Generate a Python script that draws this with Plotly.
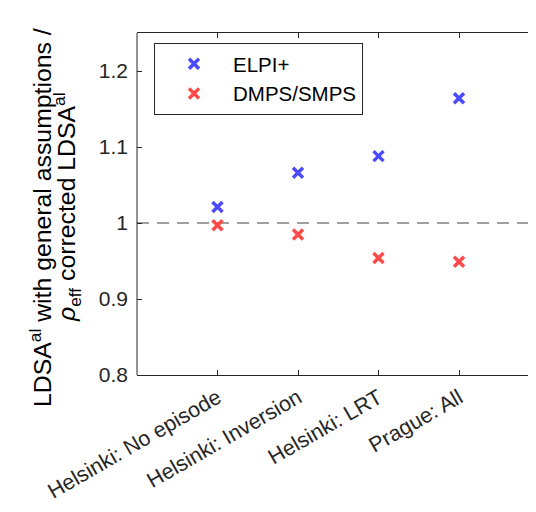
import plotly.graph_objects as go

categories = ["Helsinki: No episode", "Helsinki: Inversion", "Helsinki: LRT", "Prague: All"]
x_pos = [1, 2, 3, 4]
elpi = [1.021, 1.066, 1.088, 1.164]
dmps = [0.997, 0.985, 0.954, 0.949]
y_ticks = [0.8, 0.9, 1.0, 1.1, 1.2]
y_tick_labels = ["0.8", "0.9", "1", "1.1", "1.2"]
y_title_lines = ["LDSA<sup>al</sup> with general assumptions /",
                 "<i>ρ</i><sub>eff</sub> corrected LDSA<sup>al</sup>"]

FONT = "Liberation Sans, Arial, Helvetica, sans-serif"

# page body has an 8px default margin; keep the figure inside the window (no scrollbars)
W, H = 520, 496
L, T, B, R = 129, 25, 129, 0
PW, PH = W - L - R, H - T - B
X_MAX = PW / 80.5  # keeps category spacing of the reference

fig = go.Figure()
fig.add_trace(go.Scatter(x=x_pos, y=elpi, mode="markers", name="ELPI+",
                         marker=dict(symbol="x-thin", size=10, color="#4a4aff",
                                     line=dict(width=3.5, color="#4a4aff"))))
fig.add_trace(go.Scatter(x=x_pos, y=dmps, mode="markers", name="DMPS/SMPS",
                         marker=dict(symbol="x-thin", size=10, color="#ff4a4a",
                                     line=dict(width=3.5, color="#ff4a4a"))))

# dashed reference line at y = 1
fig.add_shape(type="line", xref="paper", yref="y", x0=0, x1=1, y0=1, y1=1,
              line=dict(color="#808080", width=1.5, dash="12px,8px"), layer="below")
# left spine
fig.add_shape(type="line", xref="paper", yref="paper", x0=0, x1=0, y0=0, y1=1,
              line=dict(color="#262626", width=1))

# y-axis title, two lines (centres in page px: line1 x=40,y=218; line2 x=67,y=207)
for txt, cx, cy in zip(y_title_lines, [40, 67], [218, 207]):
    fig.add_annotation(
        text=txt, xref="paper", yref="paper",
        x=(cx - 8 - L) / PW, y=(T + PH - (cy - 8)) / PH,
        xanchor="center", yanchor="middle", textangle=-90, showarrow=False,
        font=dict(size=24.8, color="black", family=FONT),
    )

axis_common = dict(ticks="inside", ticklen=5, tickcolor="#262626",
                   linecolor="#262626", linewidth=1,
                   showgrid=False, zeroline=False, automargin=False)

fig.update_layout(
    width=W, height=H,
    margin=dict(l=L, r=R, t=T, b=B),
    paper_bgcolor="white", plot_bgcolor="white",
    font=dict(family=FONT, color="#262626"),
    showlegend=True,
    legend=dict(x=(154 - 8 - L) / PW, y=(T + PH - (43 - 8)) / PH,
                xanchor="left", yanchor="top",
                bordercolor="#262626", borderwidth=1, bgcolor="white",
                font=dict(size=20.5, color="black"), itemwidth=68,
                tracegroupgap=0),
    xaxis=dict(range=[0, X_MAX], tickvals=x_pos, ticktext=categories,
               tickangle=-30, showline=True, mirror=False, ticklabelstandoff=1,
               tickfont=dict(size=21.5, color="#262626"), **axis_common),
    xaxis2=dict(range=[0, X_MAX], tickvals=x_pos, showticklabels=False,
                overlaying="x", side="top", showline=True, mirror=False,
                **axis_common),
    yaxis=dict(range=[0.8, 1.25], tickvals=y_ticks, ticktext=y_tick_labels,
               showline=False, mirror=False, ticklabelstandoff=8,
               tickfont=dict(size=21, color="#262626"), **axis_common),
)
# empty trace that activates the top axis (ticks only, no data)
fig.add_trace(go.Scatter(x=[], y=[], xaxis="x2", showlegend=False, hoverinfo="skip"))

fig.write_html("out.html")
